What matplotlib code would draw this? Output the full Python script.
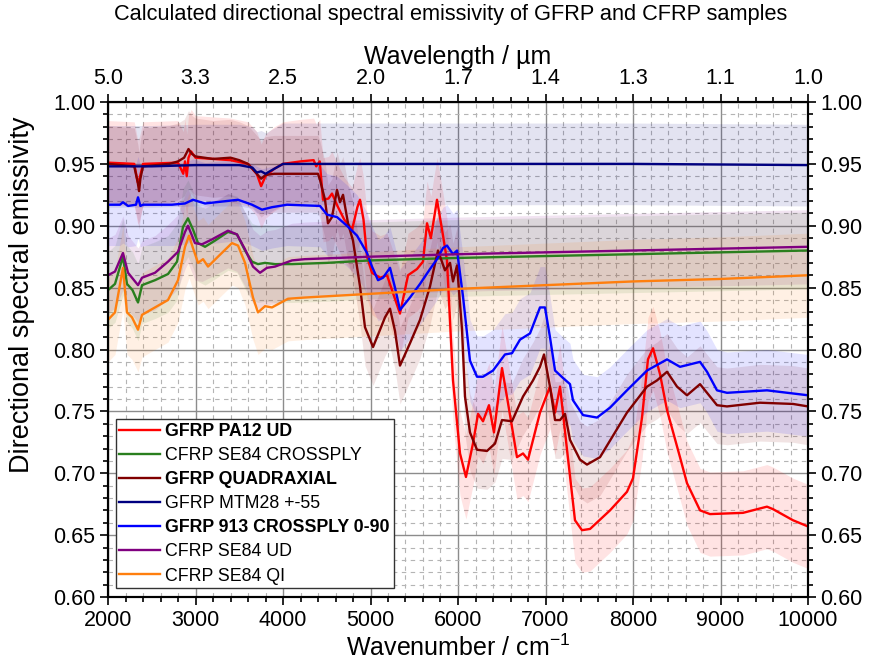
import matplotlib
matplotlib.use("Agg")
import matplotlib.pyplot as plt
from matplotlib.ticker import MultipleLocator, FixedLocator, FixedFormatter
import numpy as np

plt.rcParams['font.family'] = ['Liberation Sans', 'DejaVu Sans']
plt.rcParams['mathtext.default'] = 'regular'

# ---------------- data ----------------
labels = ["GFRP PA12 UD", "CFRP SE84 CROSSPLY", "GFRP QUADRAXIAL", "GFRP MTM28 +-55",
          "GFRP 913 CROSSPLY 0-90", "CFRP SE84 UD", "CFRP SE84 QI"]
bold = [True, False, True, False, True, False, False]
colors = ["#ff0000", "#2a7f1e", "#800000", "#000080", "#0000ff", "#800080", "#ff7f0e"]

pa12_x = [2000, 2300, 2340, 2360, 2400, 2800, 2860, 2880, 2900, 2920, 2950, 3000, 3400, 3600,
          3700, 3750, 3800, 3900, 4000, 4200, 4350, 4380, 4420, 4457, 4520, 4560, 4629, 4700,
          4790, 4850, 4880, 4920, 4960, 5017, 5109, 5189, 5260, 5337, 5429, 5531, 5600, 5646,
          5690, 5760, 5829, 5874, 5943, 6023, 6091, 6171, 6229, 6286, 6354, 6411, 6503, 6571,
          6674, 6743, 6800, 6937, 7051, 7109, 7166, 7246, 7337, 7417, 7509, 7737, 7931, 8000,
          8103, 8171, 8229, 8309, 8389, 8537, 8617, 8766, 8880, 9257, 9531, 9600, 9829, 10000]
pa12_y = [0.951, 0.950, 0.935, 0.938, 0.950, 0.951, 0.942, 0.952, 0.940, 0.955, 0.960, 0.955, 0.953, 0.950,
          0.942, 0.932, 0.940, 0.946, 0.950, 0.952, 0.953, 0.948, 0.952, 0.921, 0.922, 0.926, 0.915, 0.905,
          0.897, 0.915, 0.921, 0.905, 0.875, 0.862, 0.858, 0.860, 0.845, 0.829, 0.860, 0.865, 0.871, 0.902,
          0.890, 0.921, 0.892, 0.872, 0.775, 0.716, 0.697, 0.724, 0.748, 0.742, 0.755, 0.733, 0.785, 0.757,
          0.713, 0.716, 0.711, 0.749, 0.770, 0.749, 0.770, 0.719, 0.662, 0.654, 0.655, 0.670, 0.685, 0.696,
          0.745, 0.792, 0.801, 0.780, 0.751, 0.713, 0.692, 0.670, 0.667, 0.668, 0.673, 0.671, 0.662, 0.657]
pa12_band = 0.034

cross_x = [2000, 2080, 2171, 2217, 2280, 2343, 2389, 2537, 2686, 2789, 2857, 2914, 2971, 3029,
           3109, 3223, 3371, 3474, 3566, 3646, 3714, 3794, 3909, 4103, 4500, 5000, 6000, 8000, 10000]
cross_y = [0.848, 0.853, 0.875, 0.853, 0.848, 0.838, 0.852, 0.856, 0.861, 0.871, 0.899, 0.906, 0.897, 0.886,
           0.883, 0.888, 0.895, 0.893, 0.880, 0.871, 0.869, 0.870, 0.869, 0.869, 0.870, 0.872, 0.874, 0.877, 0.880]
cross_band = 0.031

quad_x = [2000, 2300, 2340, 2355, 2370, 2400, 2700, 2800, 2870, 2920, 2960, 3000, 3200, 3400, 3500,
          3600, 3700, 3750, 3800, 3900, 4000, 4400, 4423, 4480, 4514, 4560, 4617, 4651, 4686, 4743,
          4800, 4880, 4937, 5029, 5109, 5166, 5223, 5280, 5337, 5451, 5566, 5680, 5771, 5851, 5909,
          5943, 5989, 6046, 6080, 6137, 6217, 6331, 6423, 6503, 6617, 6743, 6857, 6937, 6983, 7051,
          7109, 7166, 7223, 7280, 7394, 7474, 7623, 7931, 8160, 8274, 8389, 8503, 8617, 8766, 8846,
          8960, 9074, 9451, 9829, 10000]
quad_y = [0.950, 0.948, 0.935, 0.928, 0.938, 0.948, 0.950, 0.952, 0.955, 0.962, 0.958, 0.956, 0.954, 0.955, 0.953,
          0.950, 0.942, 0.938, 0.941, 0.942, 0.942, 0.942, 0.937, 0.921, 0.902, 0.907, 0.929, 0.919, 0.925, 0.902,
          0.888, 0.851, 0.818, 0.802, 0.816, 0.826, 0.833, 0.815, 0.787, 0.805, 0.824, 0.851, 0.880, 0.864, 0.870,
          0.855, 0.868, 0.816, 0.762, 0.733, 0.719, 0.718, 0.724, 0.743, 0.742, 0.762, 0.775, 0.786, 0.796, 0.770,
          0.743, 0.743, 0.748, 0.727, 0.711, 0.707, 0.713, 0.749, 0.770, 0.775, 0.782, 0.770, 0.763, 0.772, 0.765,
          0.755, 0.754, 0.757, 0.756, 0.754]
quad_band = 0.031

mtm_x = [2000, 2500, 3000, 3500, 3650, 3700, 3750, 3800, 3900, 4000, 6000, 8000, 10000]
mtm_y = [0.948, 0.948, 0.949, 0.949, 0.947, 0.943, 0.944, 0.942, 0.946, 0.950, 0.950, 0.950, 0.949]
mtm_band = 0.033

c913_x = [2000, 2137, 2171, 2229, 2320, 2343, 2370, 2400, 2731, 2880, 2971, 3109, 3486, 3646, 3760,
          3874, 4046, 4423, 4503, 4617, 4731, 4846, 4960, 5017, 5086, 5143, 5223, 5280, 5337, 5451,
          5566, 5680, 5760, 5829, 5874, 5943, 5989, 6057, 6137, 6217, 6286, 6400, 6537, 6617, 6709,
          6823, 6937, 6994, 7051, 7109, 7200, 7280, 7314, 7429, 7589, 7737, 7931, 8160, 8389, 8537,
          8766, 8846, 8960, 9074, 9531, 10000]
c913_y = [0.917, 0.917, 0.919, 0.916, 0.917, 0.923, 0.916, 0.917, 0.917, 0.918, 0.921, 0.918, 0.921, 0.917, 0.913,
          0.915, 0.917, 0.916, 0.909, 0.907, 0.900, 0.892, 0.878, 0.867, 0.856, 0.858, 0.866, 0.850, 0.832, 0.842,
          0.853, 0.865, 0.873, 0.882, 0.884, 0.877, 0.880, 0.843, 0.791, 0.778, 0.778, 0.783, 0.796, 0.797, 0.808,
          0.813, 0.834, 0.834, 0.810, 0.783, 0.777, 0.772, 0.759, 0.747, 0.745, 0.753, 0.767, 0.783, 0.792, 0.786,
          0.790, 0.782, 0.767, 0.765, 0.767, 0.763]
c913_band = 0.033

ud_x = [2000, 2080, 2171, 2229, 2343, 2389, 2537, 2686, 2800, 2880, 2914, 2994, 3074, 3189,
        3371, 3474, 3566, 3657, 3737, 3817, 3909, 4103, 4251, 5000, 6000, 8000, 10000]
ud_y = [0.860, 0.863, 0.878, 0.862, 0.852, 0.858, 0.862, 0.871, 0.879, 0.895, 0.900, 0.886, 0.885, 0.889,
        0.896, 0.893, 0.881, 0.867, 0.862, 0.866, 0.867, 0.872, 0.873, 0.875, 0.877, 0.880, 0.883]
ud_band = 0.030

qi_x = [2000, 2080, 2171, 2217, 2274, 2343, 2389, 2537, 2686, 2800, 2880, 2926, 2971, 3029, 3086,
        3143, 3257, 3417, 3486, 3566, 3657, 3714, 3794, 3874, 4057, 4251, 5000, 6000, 7000, 8000,
        9000, 10000]
qi_y = [0.824, 0.830, 0.866, 0.830, 0.826, 0.816, 0.828, 0.834, 0.840, 0.856, 0.883, 0.892, 0.882, 0.870, 0.873,
        0.867, 0.875, 0.886, 0.884, 0.870, 0.842, 0.830, 0.835, 0.834, 0.841, 0.842, 0.845, 0.849, 0.852, 0.855,
        0.857, 0.860]
qi_band = 0.034

series_x = [pa12_x, cross_x, quad_x, mtm_x, c913_x, ud_x, qi_x]
series_y = [pa12_y, cross_y, quad_y, mtm_y, c913_y, ud_y, qi_y]
bands = [pa12_band, cross_band, quad_band, mtm_band, c913_band, ud_band, qi_band]

top_tick_pos = [2000, 3000, 4000, 5000, 6000, 7000, 8000, 9000, 10000]
top_tick_labels = ["5.0", "3.3", "2.5", "2.0", "1.7", "1.4", "1.3", "1.1", "1.0"]

# ---------------- figure ----------------
fig = plt.figure(figsize=(8.7, 6.66), dpi=100)
ax = fig.add_axes([108 / 870, 1 - 597 / 666, 700 / 870, 495 / 666])

for xs, ys, b, c in zip(series_x, series_y, bands, colors):
    xs = np.asarray(xs); ys = np.asarray(ys)
    ax.fill_between(xs, ys - b, ys + b, color=c, alpha=0.11, lw=0, zorder=1)

handles = []
for xs, ys, c, lab in zip(series_x, series_y, colors, labels):
    h, = ax.plot(xs, ys, color=c, lw=1.7, label=lab, zorder=3)
    handles.append(h)

ax.set_xlim(2000, 10000)
ax.set_ylim(0.60, 1.00)
ax.xaxis.set_major_locator(MultipleLocator(1000))
ax.xaxis.set_minor_locator(MultipleLocator(200))
ax.yaxis.set_major_locator(MultipleLocator(0.05))
ax.yaxis.set_minor_locator(MultipleLocator(0.01))
ax.yaxis.set_major_formatter(plt.FormatStrFormatter('%.2f'))

ax.grid(which='major', color='#8c8c8c', lw=1.0, zorder=0)
ax.grid(which='minor', color='#b4b4b4', lw=0.8, ls=(0, (4, 4)), zorder=0)
ax.set_axisbelow(True)

FS = 15.5
ax.tick_params(which='both', direction='out', labelsize=FS, right=True, labelright=True, width=1.2)
ax.tick_params(which='major', length=6, pad=3)
ax.tick_params(which='minor', length=3.5)
for s in ax.spines.values():
    s.set_linewidth(1.5)

ax.set_xlabel("Wavenumber / cm$^{-1}$", fontsize=18, labelpad=3)
ax.set_ylabel("Directional spectral emissivity", fontsize=19.5)
ax.yaxis.set_label_coords(-0.104, 0.61)

top = ax.twiny()
top.set_xlim(ax.get_xlim())
top.xaxis.set_major_locator(FixedLocator(top_tick_pos))
top.xaxis.set_major_formatter(FixedFormatter(top_tick_labels))
top.xaxis.set_minor_locator(MultipleLocator(200))
top.tick_params(which='both', direction='out', labelsize=FS, width=1.2)
top.tick_params(which='major', length=6, pad=3)
top.tick_params(which='minor', length=3.5)
top.set_xlabel("Wavelength / \u00b5m", fontsize=18, labelpad=3)
for s in top.spines.values():
    s.set_linewidth(1.5)

fig.suptitle("Calculated directional spectral emissivity of GFRP and CFRP samples",
             fontsize=15.7, x=0.518, y=0.994)

leg = ax.legend(handles=handles, loc='lower left', bbox_to_anchor=(0.011, 0.018),
                borderaxespad=0, fontsize=12.8, frameon=True, fancybox=False, framealpha=1,
                edgecolor='#333333', handlelength=2.3, labelspacing=0.4, borderpad=0.2,
                handletextpad=0.3)
leg.get_frame().set_linewidth(1.0)
for t, b in zip(leg.get_texts(), bold):
    if b:
        t.set_fontweight('bold')

fig.savefig("out.png", dpi=100)
